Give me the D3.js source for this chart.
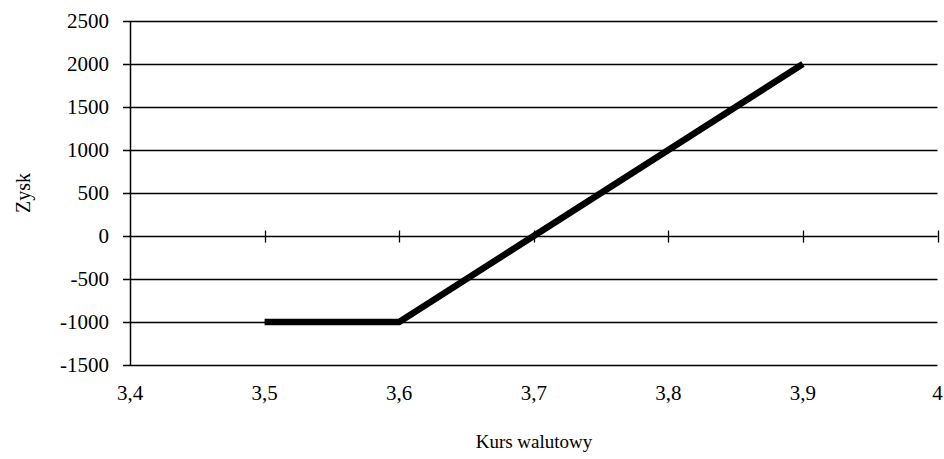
<!DOCTYPE html>
<html><head><meta charset="utf-8">
<script src="https://cdn.jsdelivr.net/npm/d3@7"></script>
<style>body{margin:0;background:#fff}</style>
</head><body>
<svg id="c" width="944" height="459"></svg>
<script>
const xValues = [3.5, 3.6, 3.9];
const profit = [-1000, -1000, 2000];
const xTicks = [3.4, 3.5, 3.6, 3.7, 3.8, 3.9, 4];
const yTicks = [-1500, -1000, -500, 0, 500, 1000, 1500, 2000, 2500];
const fmt = v => String(v).replace('.', ',');

const FONT = 'Liberation Serif';
const FS = 21;
const svg = d3.select('#c');
const L = 130, R = 937.5, T = 21, B = 365;
const x = d3.scaleLinear().domain([3.4, 4]).range([L, R]);
const y = d3.scaleLinear().domain([-1500, 2500]).range([B, T]);

// gridlines + y ticks
svg.append('g').selectAll('line').data(yTicks).join('line')
  .attr('x1', L - 7).attr('x2', R).attr('y1', d => Math.round(y(d)) + 0.5).attr('y2', d => Math.round(y(d)) + 0.5)
  .attr('stroke', '#000').attr('stroke-width', 1.3);
svg.append('g').selectAll('text').data(yTicks).join('text')
  .attr('x', L - 21).attr('y', d => y(d)).attr('dy', '0.35em').attr('text-anchor', 'end')
  .attr('font-family', FONT).attr('font-size', FS).text(d => d);

// y axis line
svg.append('line').attr('x1', L + 0.5).attr('x2', L + 0.5).attr('y1', T).attr('y2', B + 0.5)
  .attr('stroke', '#000').attr('stroke-width', 1.5);

// x ticks crossing zero line
const y0 = Math.round(y(0)) + 0.5;
svg.append('g').selectAll('line').data(xTicks.slice(1)).join('line')
  .attr('x1', d => Math.round(x(d)) + 0.5).attr('x2', d => Math.round(x(d)) + 0.5)
  .attr('y1', y0 - 6).attr('y2', y0 + 6).attr('stroke', '#000').attr('stroke-width', 1.3);
svg.append('g').selectAll('text').data(xTicks).join('text')
  .attr('x', d => x(d)).attr('y', B + 28).attr('dy', '0.35em').attr('text-anchor', 'middle')
  .attr('font-family', FONT).attr('font-size', FS).text(d => fmt(d));

// data line
svg.append('path').datum(xValues.map((v, i) => [v, profit[i]]))
  .attr('d', d3.line().x(d => x(d[0])).y(d => y(d[1])))
  .attr('fill', 'none').attr('stroke', '#000').attr('stroke-width', 6.5).attr('stroke-linejoin', 'miter');

// axis titles
svg.append('text').attr('x', 534).attr('y', 441).attr('dy', '0.35em').attr('text-anchor', 'middle')
  .attr('font-family', FONT).attr('font-size', 19).text('Kurs walutowy');
svg.append('text').attr('transform', 'translate(23,193) rotate(-90)').attr('dy', '0.35em')
  .attr('text-anchor', 'middle').attr('font-family', FONT).attr('font-size', 20).text('Zysk');
</script>
</body></html>
